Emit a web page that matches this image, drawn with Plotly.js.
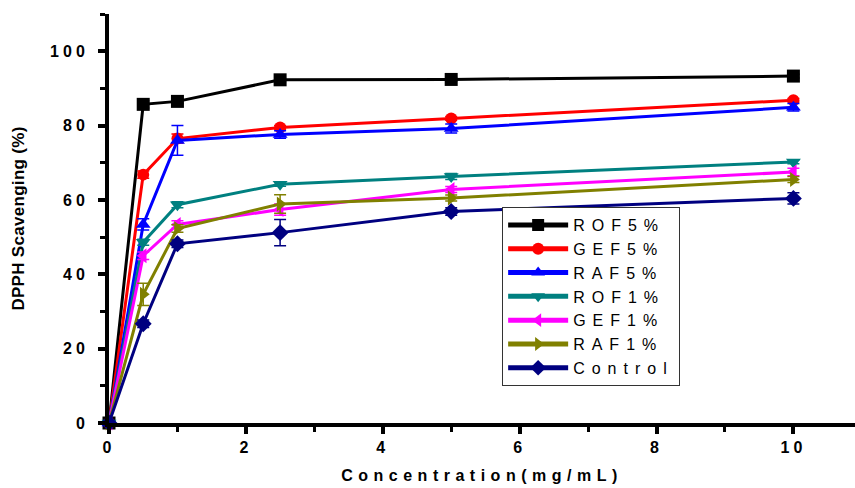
<!DOCTYPE html>
<html>
<head>
<meta charset="utf-8">
<script src="https://cdn.plot.ly/plotly-3.0.1.min.js"></script>
<style>
html,body{margin:0;padding:0;background:#fff;}
#chart{width:855px;height:488px;}
.legendtext{letter-spacing:7px;}
.xtitle{letter-spacing:5.5px;}
.ytitle{letter-spacing:0.3px;}
.xtick text,.ytick text{letter-spacing:4px;}
</style>
</head>
<body>
<div id="chart"></div>
<script>
const concentration = [0, 0.5, 1, 2.5, 5, 10];
const seriesNames = ["ROF5%", "GEF5%", "RAF5%", "ROF1%", "GEF1%", "RAF1%", "Control"];
const ROF5 = [0, 85.7, 86.5, 92.3, 92.4, 93.3];
const GEF5 = [0, 66.8, 76.5, 79.5, 81.9, 86.8];
const RAF5 = [0, 53.4, 76.0, 77.6, 79.2, 84.9];
const ROF1 = [0, 48.6, 58.7, 64.2, 66.3, 70.2];
const GEF1 = [0, 45.0, 53.4, 57.4, 62.8, 67.5];
const RAF1 = [0, 34.6, 52.3, 58.9, 60.5, 65.5];
const Control = [0, 26.7, 48.2, 51.2, 56.9, 60.4];
const ROF5err = [0, 1.0, 0.5, 0.5, 0.5, 0.5];
const GEF5err = [0, 1.0, 1.2, 0.5, 0.5, 0.5];
const RAF5err = [0, 1.5, 4.0, 1.0, 1.2, 1.0];
const ROF1err = [0, 0.8, 0.8, 0.5, 0.8, 0.5];
const GEF1err = [0, 1.0, 1.0, 1.5, 0.8, 1.0];
const RAF1err = [0, 3.0, 1.0, 2.5, 0.8, 0.8];
const Controlerr = [0, 1.0, 1.0, 3.5, 1.0, 1.5];

const values = [ROF5, GEF5, RAF5, ROF1, GEF1, RAF1, Control];
const errors = [ROF5err, GEF5err, RAF5err, ROF1err, GEF1err, RAF1err, Controlerr];
const colors = ["#000000", "#ff0000", "#0000ff", "#008080", "#ff00ff", "#808000", "#000080"];
const symbols = ["square", "circle", "triangle-up", "triangle-down", "triangle-left", "triangle-right", "diamond"];

const traces = values.map((v, i) => ({
  x: concentration,
  y: v,
  name: seriesNames[i],
  type: "scatter",
  mode: "lines+markers",
  cliponaxis: false,
  line: {color: colors[i], width: 3},
  marker: {color: colors[i], symbol: symbols[i], size: i === 1 ? 12 : 13},
  error_y: {type: "data", array: errors[i], visible: true, color: colors[i], thickness: 1.5, width: 6}
}));

const font = {family: "Arial, 'Liberation Sans', sans-serif", color: "#000"};

const layout = {
  width: 855, height: 488,
  margin: {l: 109, r: 0, t: 14, b: 65},
  paper_bgcolor: "#fff", plot_bgcolor: "#fff",
  font: font,
  showlegend: true,
  legend: {
    x: 0.527, y: 0.528, xanchor: "left", yanchor: "top",
    bgcolor: "#fff", bordercolor: "#333", borderwidth: 1,
    font: {family: font.family, size: 16, color: "#000"},
    tracegroupgap: 0, itemsizing: "constant", itemwidth: 60
  },
  xaxis: {
    range: [0, 10.9],
    showline: true, linewidth: 4, linecolor: "#000",
    showgrid: false, zeroline: false,
    ticks: "outside", ticklen: 7, tickwidth: 4, tickcolor: "#000",
    tickmode: "linear", tick0: 0, dtick: 2,
    minor: {dtick: 1, ticklen: 5, tickwidth: 3, tickcolor: "#000", ticks: "outside"},
    tickfont: {family: font.family, size: 16, color: "#000", weight: "bold"},
    title: {text: "<b>Concentration(mg/mL)</b>", font: {family: font.family, size: 16, color: "#000"}, standoff: 16}
  },
  yaxis: {
    range: [0, 110],
    showline: true, linewidth: 4, linecolor: "#000",
    showgrid: false, zeroline: false,
    ticks: "outside", ticklen: 7, tickwidth: 4, tickcolor: "#000",
    tickmode: "linear", tick0: 0, dtick: 20,
    minor: {dtick: 10, ticklen: 5, tickwidth: 3, tickcolor: "#000", ticks: "outside"},
    tickfont: {family: font.family, size: 16, color: "#000", weight: "bold"},
    ticklabelstandoff: 6,
    title: {text: "<b>DPPH Scavenging (%)</b>", font: {family: font.family, size: 17, color: "#000"}, standoff: 22}
  }
};

Plotly.newPlot("chart", traces, layout, {displayModeBar: false, staticPlot: true});
</script>
</body>
</html>
